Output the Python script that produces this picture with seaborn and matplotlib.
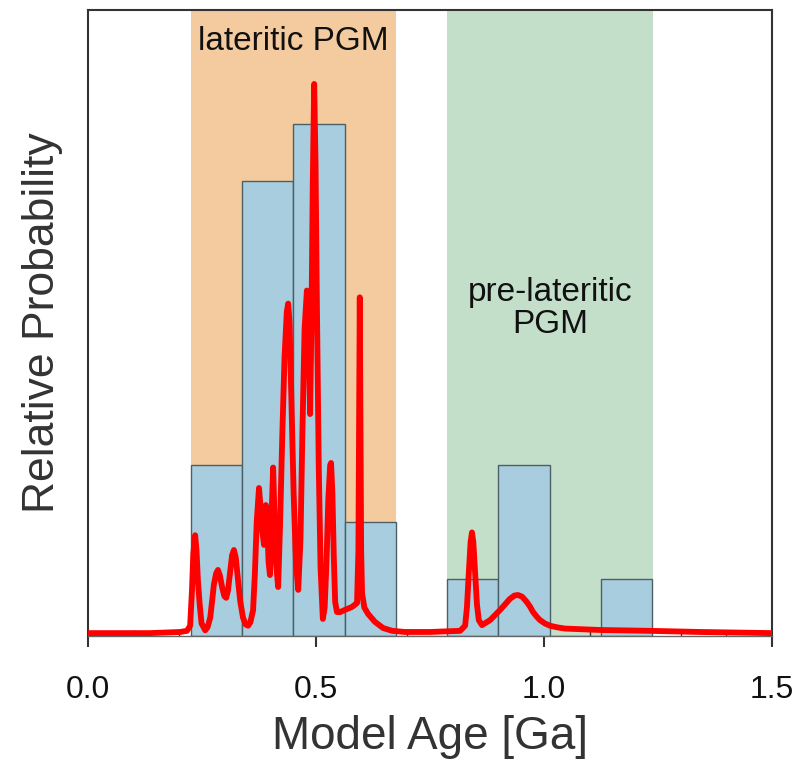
import matplotlib
matplotlib.use("Agg")
import matplotlib.pyplot as plt
import seaborn as sns
import pandas as pd
from matplotlib.ticker import MultipleLocator

# ---- data ----
bin_edges = [0.225, 0.3375, 0.45, 0.5625, 0.675, 0.7875, 0.9, 1.0125, 1.125, 1.2375]
bin_counts = [3, 8, 9, 2, 0, 1, 3, 0, 1]

curve_x = [0.000, 0.136, 0.202, 0.217, 0.224, 0.228, 0.231, 0.235, 0.238, 0.241,
           0.245, 0.249, 0.257, 0.262, 0.268, 0.272, 0.276, 0.281, 0.285, 0.289,
           0.294, 0.299, 0.303, 0.307, 0.311, 0.316, 0.320, 0.324, 0.329, 0.334,
           0.340, 0.346, 0.351, 0.356, 0.362, 0.366, 0.370, 0.375, 0.379, 0.382,
           0.386, 0.390, 0.393, 0.396, 0.399, 0.403, 0.406, 0.409, 0.412, 0.417,
           0.421, 0.426, 0.431, 0.436, 0.439, 0.442, 0.446, 0.451, 0.456, 0.461,
           0.466, 0.470, 0.475, 0.480, 0.484, 0.487, 0.490, 0.493, 0.496, 0.499,
           0.502, 0.506, 0.510, 0.515, 0.519, 0.523, 0.527, 0.531, 0.533, 0.536,
           0.539, 0.542, 0.546, 0.553, 0.564, 0.579, 0.590, 0.593, 0.595, 0.596,
           0.597, 0.599, 0.601, 0.606, 0.614, 0.629, 0.647, 0.667, 0.695, 0.750,
           0.816, 0.827, 0.831, 0.835, 0.839, 0.842, 0.845, 0.849, 0.853, 0.857,
           0.864, 0.882, 0.904, 0.915, 0.925, 0.935, 0.943, 0.952, 0.961, 0.969,
           0.976, 0.984, 0.991, 1.002, 1.013, 1.030, 1.046, 1.123, 1.232, 1.342,
           1.500]
curve_y = [0.05, 0.05, 0.07, 0.09, 0.18, 0.80, 1.45, 1.77, 1.50, 0.98,
           0.55, 0.22, 0.10, 0.15, 0.32, 0.60, 0.90, 1.10, 1.16, 1.07,
           0.86, 0.70, 0.67, 0.80, 1.07, 1.42, 1.51, 1.38, 0.98, 0.60,
           0.32, 0.20, 0.18, 0.24, 0.45, 1.10, 2.00, 2.60, 2.20, 1.86,
           1.60, 2.30, 1.95, 1.30, 1.07, 2.20, 2.96, 2.10, 1.33, 0.86,
           1.90, 3.50, 4.90, 5.70, 5.84, 5.50, 4.20, 2.50, 1.30, 0.81,
           1.70, 3.50, 5.40, 6.07, 5.30, 3.90, 5.50, 8.00, 9.70, 8.30,
           5.80, 3.00, 1.20, 0.30, 0.50, 1.30, 2.40, 3.00, 3.04, 2.50,
           1.40, 0.60, 0.42, 0.42, 0.46, 0.51, 0.58, 1.50, 4.50, 5.95,
           4.50, 1.50, 0.75, 0.50, 0.39, 0.25, 0.14, 0.09, 0.07, 0.07,
           0.09, 0.18, 0.50, 1.10, 1.65, 1.82, 1.65, 1.10, 0.55, 0.28,
           0.19, 0.28, 0.46, 0.56, 0.65, 0.71, 0.72, 0.69, 0.61, 0.52,
           0.42, 0.34, 0.28, 0.22, 0.18, 0.15, 0.13, 0.105, 0.09, 0.07,
           0.05]

lateritic_range = (0.225, 0.675)
prelateritic_range = (0.787, 1.239)
x_ticks = [0.0, 0.5, 1.0, 1.5]
x_tick_labels = ["0.0", "0.5", "1.0", "1.5"]

# ---- style ----
sns.set_style("white")
plt.rcParams["font.family"] = ["Liberation Sans", "DejaVu Sans"]

fig = plt.figure(figsize=(8, 7.62), dpi=100)
ax = fig.add_axes([0.11, 0.1654, 0.855, 0.8215])

ax.axvspan(*lateritic_range, color="#F3CB9E", zorder=0, lw=0)
ax.axvspan(*prelateritic_range, color="#C4DFC9", zorder=0, lw=0)

centers = [(bin_edges[i] + bin_edges[i + 1]) / 2 for i in range(len(bin_counts))]
hist_df = pd.DataFrame({"age": centers, "count": bin_counts})
sns.histplot(data=hist_df, x="age", weights="count", bins=bin_edges,
             color="#A7CDDE", edgecolor="#4D5F66", linewidth=1.0,
             alpha=1.0, ax=ax, zorder=2)

curve_df = pd.DataFrame({"age": curve_x, "prob": curve_y})
sns.lineplot(data=curve_df, x="age", y="prob", color="#FF0000", linewidth=4.2,
             ax=ax, zorder=3, solid_joinstyle="round", solid_capstyle="round")

ax.set_xlim(0, 1.5)
ax.set_ylim(0, 11.0)
ax.set_yticks([])
ax.set_xticks(x_ticks)
ax.set_xticklabels(x_tick_labels, fontsize=23, color="#111111")
ax.xaxis.set_minor_locator(MultipleLocator(0.1))
ax.tick_params(axis="x", which="major", direction="out", length=8, width=1.5,
               color="#333333", pad=20, bottom=True)
ax.tick_params(axis="x", which="minor", direction="in", length=4, width=1.0,
               color="#333333", bottom=True)

for side in ["left", "top", "right"]:
    ax.spines[side].set_color("#333333")
    ax.spines[side].set_linewidth(1.5)
ax.spines["bottom"].set_color("#666666")
ax.spines["bottom"].set_linewidth(1.0)

ax.set_xlabel("Model Age [Ga]", fontsize=33, color="#333333", labelpad=7)
ax.set_ylabel("Relative Probability", fontsize=32, color="#333333", labelpad=18)

ax.text(0.45, 10.45, "lateritic PGM", ha="center", va="center", fontsize=24, color="#111111")
ax.text(1.013, 5.75, "pre-lateritic\nPGM", ha="center", va="center", fontsize=24,
        color="#111111", linespacing=1.05)

fig.savefig("out.png", dpi=100)
